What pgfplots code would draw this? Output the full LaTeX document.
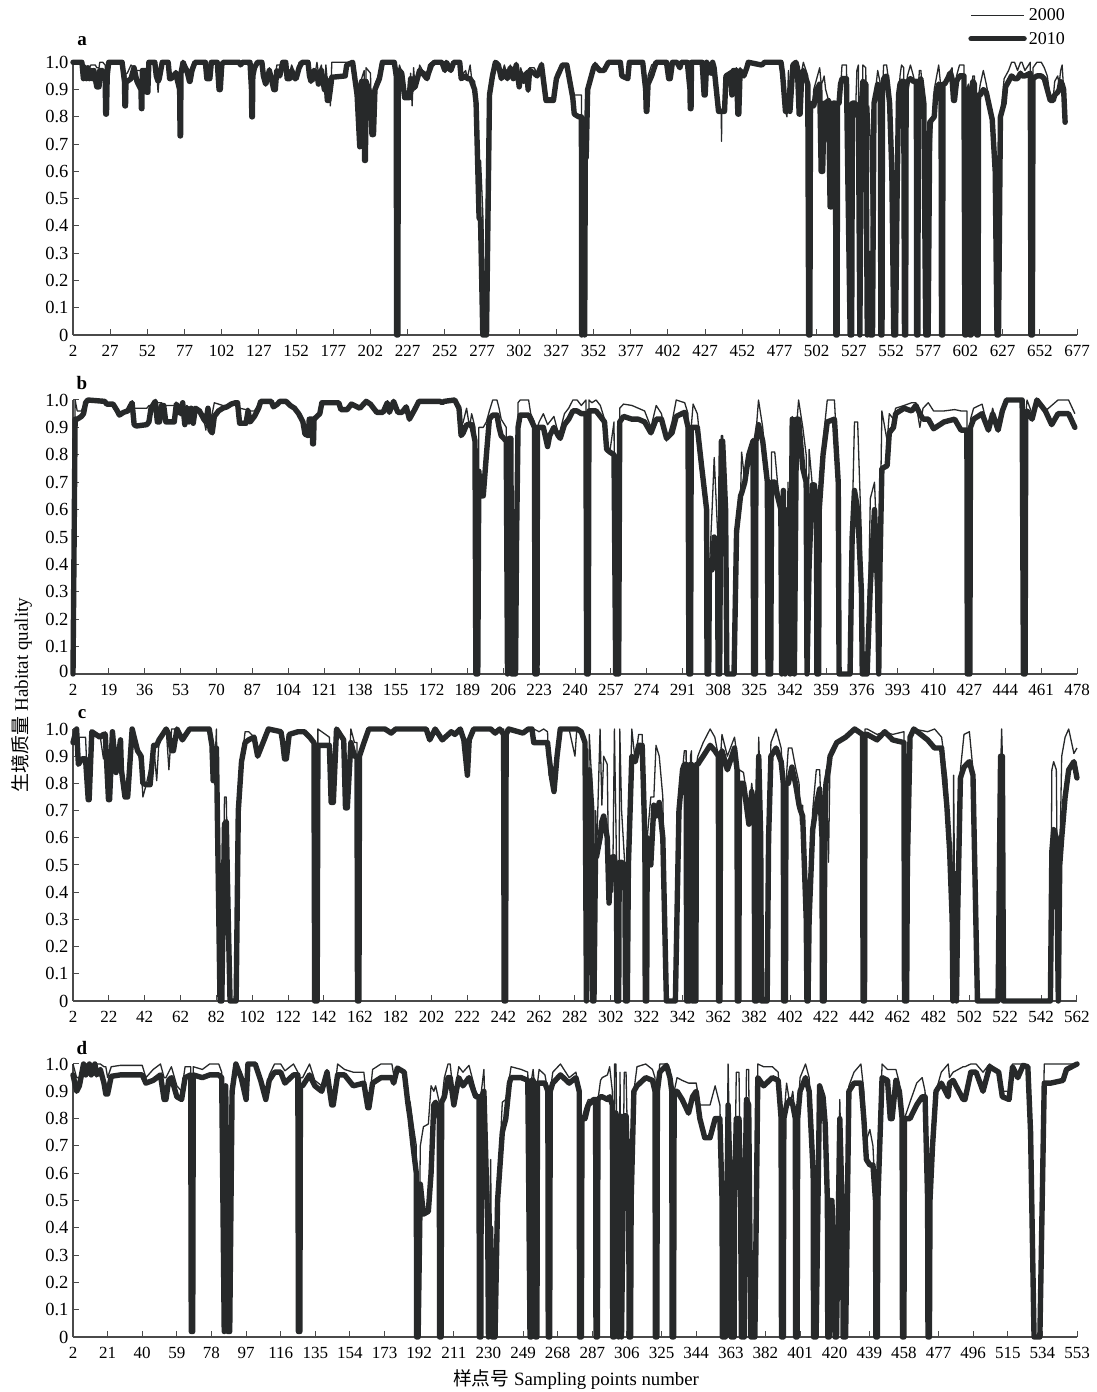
\documentclass[border=0pt]{standalone}
\usepackage{fontspec}
\usepackage{pgfplots}
\usepackage{pgfplotstable}
\pgfplotsset{compat=1.18}
\setmainfont{Liberation Serif}
\newfontfamily\cjk{Noto Sans CJK SC}
\definecolor{ink}{HTML}{27292A}
\definecolor{axisgray}{HTML}{4A4A4A}

% x, habitat quality 2000, habitat quality 2010
\pgfplotstableread{
x y00 y10
2 1 1
8 1 1
9 .99 .94
10 .99 .98
11 .98 .94
12 .98 .98
13 .98 .94
14 .99 .97
15 .99 .94
16 .99 .97
17 .99 .94
18 .98 .91
19.5 .98 .91
20 1 .97
22 1 .97
23.6 .99 .94
24 .96 .81
24.5 .96 .81
25 .98 .95
26 1 1
35 1 1
36.6 .97 .93
36.9 .85 .84
37.3 .85 .84
37.6 .96 .93
38.5 .96 .93
41 .99 .94
43 .98 .98
45 .97 .93
47.7 .97 .9
48 .85 .83
48.3 .85 .83
48.6 .97 .97
50 .97 .97
51.7 .9 .89
52.3 .9 .89
53 1 1
57 1 1
58 .98 .95
59.2 .89 .93
60 .95 .94
62 1 1
66 1 1
67 .97 .94
68 .95 .94
71 .97 .96
73.7 .96 .9
74 .75 .73
74.3 .75 .73
74.6 .97 .96
76 1 1
79 .98 .96
80.3 .97 .93
80.7 .97 .93
82 .99 .97
84 1 1
91 1 1
92 .97 .94
94 .96 .94
95 1 1
99 1 1
100.2 .94 .90
101 .94 .90
102 1 .99
103 1 1
114 1 1
114.6 .99 .99
116 1 1
121 1 1
122 .95 .9
122.2 .81 .80
122.6 .81 .80
122.9 .96 .95
124 .99 .98
126 1 1
129 1 1
130 .98 .95
131.5 .95 .92
133 .92 .95
134 .98 .97
137 .93 .90
138 .93 .90
139 .99 .97
141 .99 .95
143 1 1
145 1 1
146 .96 .94
147.6 .96 .94
149 .99 .97
151 .96 .94
152 .96 .94
154 1 .98
156 1 1
160 1 1
161 .98 .95
162 .96 .93
164 .93 .97
166 1 .96
167 .96 .92
169 .99 .97
171 .89 .9
172 .99 .94
173 .93 .86
174 .93 .86
175 .84 .9
176 1 .945
185 1 .95
186 1 .99
190 1 1
191 .98 .96
193 .9 .88
194.8 .7 .69
195.2 .9 .89
196 .94 .93
197.8 .97 .93
198 .65 .64
198.6 .65 .64
199 .98 .93
202 .96 .88
203 .73 .735
204 .73 .735
205 .92 .9
208 .96 .94
210 1 1
218 1 1
219.3 .96 .95
219.6 0 0
220.4 0 0
220.7 .96 .95
221.5 .99 .97
223 .96 .96
225 .87 .87
228 .88 .87
229 .96 .94
230 .84 .9
231 .98 .94
232 .9 .91
234 .93 .95
235 .99 .97
237 .97 .96
240 .96 .94
241 .99 .96
243 1 .99
245 1 1
250 1 1
252 .98 .97
253 1 1
256 .97 .97
258 1 1
262 1 1
263 .95 .94
266 .97 .95
267 .94 .94
269 .99 .94
270 .94 .93
272 .93 .90
273 .85 .85
275 .42 .43
276 .64 .42
277.5 .45 0
279 0 0
280 .5 0
282 .9 .88
284 .97 .95
286 1 1
288 1 .99
290 .95 .94
292 .99 .97
294 .95 .94
296 .99 .98
298 .95 .94
300 1 .99
302 .92 .91
303 .98 .96
305 .94 .93
307 .97 .96
308 .89 .9
309 .98 .97
312 .98 .96
314 .96 .95
317 1 .99
320 .87 .86
325 .87 .86
327 .96 .94
331 .99 .99
334 .99 .99
336 .94 .93
338 .9 .87
339 .88 .81
342 .88 .80
343.8 .88 .80
344 0 0
345 .65 .6
346 0 0
346.4 .65 .65
347 .7 .65
348 .9 .9
350 .95 .94
352 .99 .98
353 1 .99
356 .98 .97
359 .97 .97
361 .99 .99
362 1 1
370 1 1
371 .95 .95
375 .94 .94
376 1 1
385 1 1
387 .9 .9
387.4 .83 .82
387.8 .83 .82
388.6 .95 .92
391 .99 .95
394 1 1
401 1 1
402.5 .94 .94
403.5 .94 .94
405 1 1
408 1 1
410 .98 .98
411 1 1
415 1 1
416.8 .95 .9
417 .83 .83
417.5 .83 .83
417.8 1 1
425 1 1
426.3 .88 .88
427 .88 .88
428 1 1
431 .96 .96
432 1 1
433 .99 .98
436 .85 .82
437.8 .82 .82
438 .71 .82
438.2 .82 .82
440 .85 .82
441 .95 .95
444 .97 .96
445 .89 .88
446 .96 .97
448 .98 .97
449 .82 .81
449.6 .82 .81
450.5 .98 .97
453 .96 .95
455 .97 .98
456 1 1
465 .99 .99
467 1 1
478 1 1
479 .98 .96
481 .82 .82
482 .8 .82
483 .97 .85
484 .82 .82
486 1 .99
488 1 1
489 .99 .98
490.2 .82 .81
490.8 .82 .81
492 .97 .96
493 1 .97
496 .95 .92
496.6 0 0
497.4 0 0
497.8 .7 .85
500 .9 .84
502 .94 .9
504 .98 .92
505 .92 .6
506 .93 .6
507 .95 .85
508 .9 .85
510 .86 .86
511 .86 .47
512 .84 .47
513 .85 .85
514.6 .85 .85
514.9 0 0
515.7 0 0
516 .85 .85
517 .85 .85
518 .9 .92
519 .99 .94
522 .99 .94
523 .6 .55
524.5 0 0
525.5 .1 0
526 .85 .85
528 .8 .85
529 .97 .83
530 .99 .84
531 0 0
532 .4 .84
533 .99 .93
535 .98 .92
536 0 0
537 .84 .3
538 .72 0
539.5 0 0
540.5 .85 .85
543 .97 .92
544.8 .92 .9
545.1 0 0
545.9 0 0
546.2 .9 .9
547 .99 .94
549 .99 .95
551 .9 .85
552.5 .6 .6
553.8 0 0
555 0 0
556 .5 .5
557 .85 .88
558 .95 .92
559 .99 .93
560.5 .98 .93
561 0 0
561.8 0 0
562.1 .9 .9
563 .95 .93
565 .99 .94
567 .95 .93
569 .9 .93
569.2 0 0
570 0 0
570.3 .9 .93
571 .97 .93
572 .97 .94
574 .85 .85
575.3 0 0
576.9 0 0
578 .6 .78
581 .9 .8
582 .93 .88
584 .99 .92
585.6 .9 .9
585.9 0 0
586.6 0 0
586.9 .92 .92
588 .92 .92
590 .96 .94
592 .97 .96
593 .98 .94
594 .87 .86
594.6 .87 .86
596 .95 .93
598 .99 .95
601 .99 .95
601.6 0 0
602.4 0 0
602.7 .9 .9
604 .92 .9
605 0 0
605.8 0 0
606 .9 .9
607 .95 .93
608 .95 .92
609.7 0 0
610.5 0 0
610.8 .88 .88
612 .92 .88
614 .97 .9
616 .92 .89
618 .86 .84
620 .8 .79
622 .6 .6
623.2 0 0
624.2 0 0
625.5 .8 .8
628 .94 .85
629 .95 .91
631 .97 .93
633 1 .95
635 1 .94
637 .97 .94
639 1 .96
640 1 .95
642 .97 .95
645.6 1 .96
646 0 0
647 0 0
647.4 .98 .94
650 1 .95
653 1 .95
655 .98 .94
657 .95 .9
659 .87 .86
661 .87 .86
662 .93 .88
664 .95 .89
665 .92 .9
666 .97 .93
667 .99 .92
668 .9 .9
669 .78 .78
}\tabA

\pgfplotstableread{
x y00 y10
2 0 0
3 1 .93
4 .96 .93
6 .96 .94
7 .98 .95
8 1 .99
9 1 1
17 .995 .995
18 .99 .985
21 .99 .985
23 .96 .96
24 .945 .945
26 .96 .955
28 .97 .96
30 .995 .99
31 .97 .91
32 .97 .905
37 .97 .91
38 .98 .92
39 .98 .97
41 .995 .995
42 .99 .92
43 .99 .92
44 .99 .98
45 .98 .98
46 .98 .92
50 .98 .92
51 .98 .985
53 .98 .95
54 .99 .99
55 .97 .91
56 .98 .97
57 .97 .92
58 .97 .97
59 .97 .915
60 .97 .97
62 .965 .96
64 .93 .93
65 .89 .92
66 .97 .97
67 .93 .89
68 .95 .88
69 .99 .94
71 .985 .96
73 .98 .97
75 .98 .975
77 .985 .985
79 .99 .99
80 .985 .99
81 .97 .915
84 .965 .915
85 .97 .96
86 .96 .92
87 .96 .93
88 .96 .94
90 .985 .97
91 .995 .995
96 .995 .995
97 .975 .975
99 .985 .985
100 1 .995
103 1 .995
105 .98 .98
107 .97 .97
109 .95 .95
111 .92 .92
112 .875 .875
113.6 .87 .87
114 .93 .93
115.4 .93 .93
115.6 .84 .84
116 .84 .84
116.3 .93 .93
119 .95 .95
120 .99 .99
128 .99 .99
129 .965 .965
132 .965 .965
134 .985 .985
138 .97 .97
141 .995 .995
143 .985 .985
146 .955 .955
149 .955 .955
151 .99 .99
152 .955 .955
154 .995 .995
156 .955 .955
158 .955 .955
160 .975 .975
161.5 .93 .93
164 .965 .965
166 .995 .995
176 .995 .995
177 .99 .99
178 .995 .995
183 1 1
185 .98 .97
186 .9 .87
187 .92 .88
188.6 .97 .91
190 .9 .91
191 .95 .91
192.6 .9 .85
193 0 0
193.9 0 0
194.4 .9 .74
195.5 .9 .65
196.5 .9 .65
198 .92 .8
199.4 .96 .93
201 1 .945
203 1 .945
204 .97 .9
205 .93 .87
207.4 .9 .85
208 0 0
208.8 .86 .86
209.6 .86 .86
210 0 0
211.8 0 0
212.3 .5 .5
213 .99 .9
214 1 .945
218 1 .945
219 .95 .93
220.8 .92 .9
221 0 0
222 0 0
222.2 .9 .9
223 .92 .9
225 .95 .9
227 .91 .83
228 .92 .87
230 .94 .9
232 .88 .87
233 .89 .86
235 .95 .91
237 .97 .93
239 1 .96
241 1 .96
243 .98 .95
245.2 1 .95
245.5 0 0
246.3 0 0
246.6 1 .96
248 .99 .96
250 1 .96
252 .98 .94
254 .93 .92
255 .85 .82
256.5 .81 .81
258.5 .92 .8
259.3 0 0
260.7 0 0
261.2 .97 .92
263 .985 .94
267 .98 .93
270 .97 .93
273 .96 .92
276 .9 .88
278.5 .98 .93
281 .95 .93
283.4 .85 .86
286 .92 .88
288 1 .94
292 .99 .955
293.6 .95 .9
294 0 0
294.8 0 0
295.1 .9 .9
296 .985 .9
298 .95 .9
300 .8 .76
302.4 .6 .6
302.6 0 0
303.4 0 0
303.7 .38 .38
305 .6 .38
306 .79 .5
307.7 .5 .45
307.8 0 0
308.6 0 0
309 .5 .6
309.4 .87 .85
310 .87 .85
311.4 .6 .6
312 0 0
315.4 0 0
316.6 .52 .52
318.5 .65 .65
319 .81 .66
320.5 .7 .7
322.4 .8 .8
324.4 .86 .85
324.7 0 0
325.5 0 0
325.8 .88 .85
327 1 .91
329 .9 .85
331.2 .7 .7
331.5 0 0
332.8 0 0
333.2 .81 .7
334.7 .81 .7
336 .7 .65
337.6 .6 .6
338 0 0
338.8 .67 .67
339.6 0 0
341 .7 .6
342 0 0
343 .94 .93
344 0 0
345 .9 .93
346 1 .93
348 .9 .75
349.6 .8 .7
350 0 0
351 .82 .4
352.5 .69 .69
353.5 .69 .69
354.5 .6 .6
354.7 0 0
355.5 0 0
355.8 .6 .6
357.6 .85 .8
359.6 1 .92
363 1 .93
364.8 .73 .7
365.2 0 0
370.4 0 0
371.4 .55 .5
372.5 .92 .67
374 .92 .6
375.8 .5 .3
376.2 0 0
378.5 0 0
380 .64 .32
382 .7 .6
383.5 .4 .3
384 0 0
384.6 .5 .4
385.5 .96 .75
388 .85 .76
389 .95 .88
391 .93 .9
392 .97 .95
396 .98 .97
399.6 .99 .96
401.6 .99 .98
403.5 .9 .95
405 .97 .93
407.5 .99 .93
410 .96 .895
415 .96 .92
420 .965 .93
423 .96 .89
425.8 .96 .89
426 0 0
427.2 0 0
427.5 .93 .9
429 .97 .93
433 .985 .95
436 .89 .89
438 .97 .95
440.6 .89 .89
442.6 .97 .96
444.6 1 1
452 1 1
452.6 0 0
453.4 0 0
453.7 .95 .95
454.3 1 .96
456.7 .95 .93
459 1 1
463 .96 .96
466 .98 .91
469 1 .95
474 1 .95
477 .95 .9
}\tabB

\pgfplotstableread{
x y00 y10
2 .95 .95
4 1 1
5 .97 .87
7 .97 .89
9 .97 .89
10.5 .74 .74
11 .74 .74
12.5 .99 .99
17 .98 .97
19 .89 .98
20 .99 .98
21.8 .74 .74
22.4 .74 .74
24 .99 .99
26 .84 .84
28.5 .96 .96
29 .85 .85
31 .75 .75
32.5 .75 .75
35 1 1
38 .92 .92
40 .86 .9
41 .75 .8
43 .8 .795
45 .86 .795
47 .94 .94
48.7 .81 .94
50 .96 .96
54 1 1
55.5 .85 .98
57 1 .92
58 1 .92
60 1 1
63 .96 .96
67 1 1
78 1 1
79.5 .94 .94
80.2 .81 .81
80.8 .81 .81
82 1 .93
84 0 0
85 0 0
86.5 .75 .65
87.5 .75 .66
88.6 .3 .3
89.6 0 0
93 0 0
94.2 .7 .7
96 .88 .88
98 .99 .95
100 .99 .96
103 .97 .97
105 .9 .9
108 .95 .95
111 1 1
118 .99 .99
119 .95 .95
120 .89 .89
121 .89 .89
122.6 .98 .98
127.5 .99 .99
131 .99 .99
134 .97 .97
136.4 .95 .95
136.8 0 0
138.2 0 0
138.6 1 .94
145 .97 .94
146 .73 .73
147.2 .73 .73
149 1 1
153 .96 .96
154 .71 .71
155 .71 .71
157 1 .95
159 .95 .9
160.4 .95 .9
160.7 0 0
161.5 0 0
161.8 .9 .9
163.8 .96 .94
167 1 1
176 1 1
179.5 .985 .985
182 1 1
199 1 1
201 .96 .96
204 1 1
208 .96 .96
213 .99 .99
215 .98 .98
218 1 1
220 .96 .96
222 .83 .83
223 .96 .96
225.5 1 1
235 1 1
237.5 .985 .985
240 1 1
242.2 1 .98
242.5 0 0
243.3 0 0
243.6 1 .98
245 1 1
253 .985 .985
256 1 1
258 1 1
259 1 .95
262 .99 .95
264.5 1 .95
266.7 .99 .95
267.5 .83 .9
269 .85 .82
270.3 .78 .77
272 .9 .9
273.8 1 1
278.7 1 1
282 .9 1
283 1 1
285.5 .99 .99
287.6 .95 .95
288.4 0 0
289 .4 .4
290 .98 .85
291.4 .8 .7
291.8 0 0
292.6 0 0
293.5 .7 .57
294 .53 .53
296 1 .6
297 .72 .66
298 .9 .68
300 .87 .6
301 .36 .36
302 .5 .5
303 .4 .53
304 1 .53
305.2 .5 .4
305.4 0 0
306.4 0 0
306.6 .4 .4
307 1 .51
308 .7 .51
309.8 .5 .5
310.2 0 0
311.2 0 0
311.8 .5 .5
313.7 1 .9
315.6 .88 .88
317.5 .98 .94
319.5 .98 .94
321 .6 .6
321.2 0 0
322 0 0
322.3 .6 .6
324.3 .75 .5
326 .75 .72
327.2 .94 .68
329 .9 .73
331 .75 .6
333 0 0
338 0 0
340 .7 .7
342 .85 .85
343 .92 .87
344 .92 .87
344.3 0 0
346 0 0
346.4 .9 .87
347 .92 .87
347.4 0 0
349.4 0 0
349.8 .87 .87
350.5 .9 .87
353.5 .95 .9
357.4 1 .94
360 .97 .92
362 .9 .9
362.1 0 0
362.9 0 0
363.2 .9 .9
364 .98 .92
367 .9 .85
371 .97 .93
372.4 .9 .85
372.6 0 0
373.4 0 0
373.7 .85 .8
376 .84 .8
379 .7 .65
380.6 .8 .77
382 .7 .7
382.2 0 0
383.4 0 0
383.8 .7 .7
384.5 .97 .9
385.6 .7 .6
386 0 0
389.2 0 0
390 .6 .6
391.3 .95 .9
394.2 1 .93
397 .93 .88
398.2 .8 .8
398.4 0 0
399.4 0 0
399.7 .8 .8
401 .93 .8
403 .93 .86
405 .86 .8
407 .8 .72
407.8 .65 .7
409 .72 .68
411 .3 .3
411.4 0 0
412 0 0
412.6 .3 .3
414.6 .7 .63
416.6 .85 .72
418.5 .85 .78
419.8 .6 .6
420 0 0
421 0 0
421.3 .6 .6
422 .85 .8
423.4 .51 .85
424.3 .9 .9
428 .95 .95
433 .97 .97
438 1 1
442.4 .98 .98
442.7 0 0
443.5 0 0
443.8 1 .98
445 1 .98
450.5 .98 .96
454.8 .99 .99
459.2 .98 .96
465.5 .99 .95
465.8 0 0
467 0 0
467.4 .5 .5
468.9 .97 .97
471 1 1
478.7 .99 .96
482.6 1 .93
486.5 .97 .93
489.4 .82 .72
491 .62 .55
492.4 .3 .3
492.8 0 0
493.2 .83 .47
494 .2 .2
494.8 0 0
495.4 .3 .3
497 .85 .82
499 .98 .86
502 .99 .88
504 .85 .83
506.5 0 0
518 0 0
519.4 .9 .9
519.6 .9 .9
520 1 .9
520.4 .9 .9
521 0 0
547.2 0 0
548 .85 .55
549 .88 .63
550.5 .85 .6
551.6 0 0
552.4 .5 .5
553.5 .9 .6
555.4 .97 .75
557.4 1 .85
560.3 .91 .88
562 .93 .82
}\tabC

\pgfplotstableread{
x y00 y10
2 1 .96
4 .95 .9
5.5 .95 .92
7.8 1 1
9 1 .96
11 1 1
12 1 .96
14 1 1
15 1 .96
17 1 .98
19 .99 .93
20 .99 .89
21 .95 .89
23 .99 .955
28 .995 .96
40 .995 .96
42 .95 .93
46 .98 .94
50 1 .96
52 .95 .87
53 .95 .87
54.5 .97 .94
56 .99 .95
59 .92 .88
61.6 .9 .87
63.5 .99 .95
66.6 .99 .96
66.9 .02 .02
67.7 .02 .02
68 .99 .96
73 .98 .95
77 1 .96
82 1 .96
83.6 .97 .95
85 .02 .02
85.8 .92 .92
87 .02 .02
88 .02 .02
89.3 .92 .9
91.4 1 1
94.3 .97 .95
97 .9 .87
98 1 1
102 1 1
105 .94 .94
107.8 .9 .87
109.7 .96 .94
112.6 1 .97
116 1 .97
118.3 .975 .93
123 1 .96
125.4 .97 .96
125.7 .02 .02
126.5 .02 .02
126.8 .95 .92
128 .95 .92
131.8 1 .96
134.7 .94 .92
138.5 .92 .9
141.4 .98 .97
144 .85 .85
144.8 .85 .85
147.2 1 .96
151 .98 .96
155.8 .97 .92
161.6 .97 .93
163.8 .84 .84
164.4 .84 .84
166.4 .98 .93
171 1 .95
177 1 .95
178 .96 .93
180 .985 .985
183.8 .97 .97
185.7 .88 .86
187 .86 .8
188.6 .78 .7
190.4 .7 .6
190.6 0 0
191.4 0 0
192.6 .7 .56
194.3 .77 .45
197 .78 .46
198.5 .92 .6
200 .9 .85
201 .92 .86
203 .86 .8
203.2 0 0
204 0 0
204.3 .86 .86
205.8 .95 .88
207.8 1 .95
209 1 .95
211 .87 .85
213.7 .99 .95
216 .97 .92
219.3 .995 .95
223 .9 .88
224.8 .88 .88
225 0 0
225.8 0 0
226.1 .9 .88
227.5 .98 .9
229.6 .5 .4
230 0 0
230.6 .4 .3
231.2 .65 .4
232 0 0
233.6 0 0
235 .5 .5
237.6 .86 .75
239.5 .87 .8
241.5 .95 .93
242.4 .99 .95
248 .98 .95
251.6 .97 .94
252.8 0 0
253.5 0 0
253.8 .95 .94
254.5 .98 .94
255.6 .9 .9
255.8 0 0
256.6 0 0
256.9 .93 .93
257.8 .98 .93
261 .96 .93
262.6 .9 .9
262.8 0 0
263.6 0 0
263.9 .9 .9
265.3 .97 .93
269.5 1 .96
274.3 .95 .93
278 .97 .95
279.8 .9 .9
280 0 0
281 0 0
281.3 .8 .8
283 .84 .8
284.8 .87 .85
287.7 .87 .87
288.8 .87 .87
289 0 0
289.8 0 0
290.1 .87 .87
291.5 .94 .88
292.4 .95 .88
295.3 .96 .87
296.5 .99 .88
298 .9 .85
298.2 0 0
299 0 0
299.2 1 .82
300 1 .82
301.4 0 0
302.2 .97 .81
303 0 0
304.5 .97 .81
305.5 .97 .81
307 .5 .5
307.2 0 0
308 0 0
308.3 .5 .5
309.8 .9 .9
311.5 .99 .92
316.3 1 .95
320 .98 .94
321.4 .95 .9
321.6 0 0
322.4 0 0
322.7 .9 .9
324 1 .97
327.7 1 .995
329.6 .98 .95
330.6 .9 .9
330.8 0 0
331.6 0 0
331.9 .9 .9
333.5 .95 .9
336.3 .94 .87
339.8 .93 .82
342 .93 .88
344 .93 .9
346 .85 .8
348.7 .85 .73
351.6 .85 .73
354.4 .92 .8
357 .85 .8
358.2 .5 .5
358.4 0 0
360 0 0
361.5 1 .85
362.9 .5 .5
363.2 0 0
364.8 0 0
365 .5 .5
366 .97 .8
367.5 .97 .8
368.4 .5 .5
368.8 0 0
370.4 0 0
370.7 .5 .5
371.6 .98 .87
372.8 .98 .85
374 0 0
376.2 0 0
377.8 1 .95
381 .99 .92
385.8 .99 .95
389 .97 .94
390.6 .8 .8
390.8 0 0
391.8 0 0
392.1 .8 .8
393.6 .93 .85
395.5 .85 .87
397 .9 .85
398.4 .8 .8
398.6 0 0
399.4 0 0
399.7 .8 .8
401 .95 .9
404 1 .95
406 .95 .9
408.2 .6 .6
408.4 0 0
409.8 0 0
411.7 .85 .92
413.6 .85 .88
414.8 .82 .78
416 .5 .5
416.2 0 0
417 0 0
417.3 .5 .5
418.5 .5 .5
420.2 0 0
421 0 0
422.8 .87 .8
424.4 .4 .4
424.6 0 0
426 0 0
427.8 .92 .9
430.6 .97 .93
434.4 1 .93
436 .9 .8
437.4 .72 .65
439.3 .76 .63
441 .7 .63
442.4 .5 .5
442.6 0 0
443.4 0 0
443.7 .5 .5
446 1 .95
449 .98 .94
450.5 .98 .8
451.5 .98 .8
453.6 .98 .94
455.5 .93 .9
457 .8 .8
457.2 0 0
458 0 0
458.3 .8 .8
461.3 .86 .8
465 .93 .85
468 .95 .88
469.6 .9 .88
471 .5 .5
471.2 0 0
472 0 0
472.3 .5 .5
473.7 .7 .7
475.6 .9 .9
478.5 .97 .93
482.3 1 .88
483 .95 .93
485 .97 .94
490.5 .99 .87
491.5 .99 .87
494.7 1 .97
497.6 1 .97
501.4 .97 .9
505 1 .99
510 .97 .97
512 .9 .88
515.7 .9 .87
517.6 1 .99
520.5 1 .95
523.4 1 .995
526 .99 .99
527.5 .75 .75
529.4 0 0
532.6 0 0
535 1 .93
538.6 1 .93
545.3 1 .94
547.2 1 .98
553 1 1
}\tabD

\pgfplotsset{
  every axis/.append style={
    scale only axis, width=1004pt, clip=false,
    axis lines=left, axis line style={-, axisgray, line width=1.3pt},
    ymin=0, ymax=1,
    tick align=inside, tick pos=lower,
    major tick length=5.5pt,
    every tick/.style={axisgray, line width=1pt},
    ytick={0,0.1,...,1.01},
    /pgf/number format/assume math mode=true,
    xticklabel style={yshift=-7pt, font=\fontsize{17}{17}\selectfont},
    yticklabel style={xshift=-1pt, font=\fontsize{18.5}{18.5}\selectfont},
    yticklabels={0,0.1,0.2,0.3,0.4,0.5,0.6,0.7,0.8,0.9,1.0},
  },
  y2000/.style={ink, line width=1.3pt, line join=round, no marks},
  y2010/.style={ink, line width=5.4pt, line join=round, line cap=round, no marks},
}

\begin{document}
\begin{tikzpicture}[x=1pt,y=1pt]
\useasboundingbox (0,0) rectangle (1096,1392);

\begin{axis}[
  at={(73pt,1057pt)}, anchor=south west, height=272.7pt,
  xmin=2, xmax=677, xtick={2,27,...,677},
  legend style={at={(0.990,1.205)}, anchor=north east, draw=none, fill=none,
    font=\fontsize{18}{18}\selectfont, row sep=6pt, inner sep=0pt,
    cells={anchor=west}},
  legend image code/.code={\draw[#1] (0pt,0pt) -- (53pt,0pt);},
]
\addplot[y2000] table[x=x,y=y00] {\tabA};
\addplot[y2010] table[x=x,y=y10] {\tabA};
\legend{2000,2010}
\end{axis}

\begin{axis}[
  at={(73pt,718pt)}, anchor=south west, height=274pt,
  xmin=2, xmax=478, xtick={2,19,...,478},
  yticklabels={\raisebox{6pt}{0},0.1,0.2,0.3,0.4,0.5,0.6,0.7,0.8,0.9,1.0},
]
\addplot[y2000] table[x=x,y=y00] {\tabB};
\addplot[y2010] table[x=x,y=y10] {\tabB};
\end{axis}

\begin{axis}[
  at={(73pt,391pt)}, anchor=south west, height=272pt,
  xmin=2, xmax=562, xtick={2,22,...,562},
  yticklabels={0,0.1,0.2,0.3,0.4,0.5,0.6,0.7,0.8,0.9,\raisebox{-6pt}{1.0}},
]
\addplot[y2000] table[x=x,y=y00] {\tabC};
\addplot[y2010] table[x=x,y=y10] {\tabC};
\end{axis}

\begin{axis}[
  at={(73pt,55pt)}, anchor=south west, height=273pt,
  xmin=2, xmax=553, xtick={2,21,...,553},
]
\addplot[y2000] table[x=x,y=y00] {\tabD};
\addplot[y2010] table[x=x,y=y10] {\tabD};
\end{axis}

\node[font=\fontsize{19}{19}\selectfont\bfseries] at (82,1351) {a};
\node[font=\fontsize{19}{19}\selectfont\bfseries] at (82,1009) {b};
\node[font=\fontsize{19}{19}\selectfont\bfseries] at (82,678) {c};
\node[font=\fontsize{19}{19}\selectfont\bfseries] at (82,344) {d};

\node[rotate=90, font=\fontsize{19}{19}\selectfont] at (22,697) {{\cjk 生境质量} Habitat quality};
\node[font=\fontsize{18.8}{18.8}\selectfont] at (576,12) {{\cjk 样点号} Sampling points number};
\end{tikzpicture}
\end{document}
